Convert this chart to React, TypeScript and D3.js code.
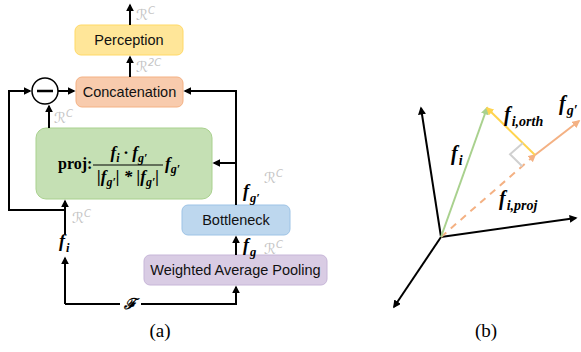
import * as d3 from "d3";
import React from "react";

// ---- panel (a) content
const boxLabels = ["Perception", "Concatenation", "Bottleneck", "Weighted Average Pooling"];
const boxFills = ["#FFE699", "#F8CBAD", "#BDD7EE", "#D9CCE4"];
const boxStrokes = ["#FFD966", "#F4B183", "#9DC3E6", "#C7B6D8"];
const dimLabels = ["C", "2C", "C", "C", "C", "C"];

// ---- panel (b) vectors, in vector-space units (origin = 0,0)
const axisVecs = [
  [-2.0, 12.9],
  [13.5, 1.9],
  [-4.7, -7.0],
];
const fI = [4.6, 12.9];
const fProj = [9.4, 8.2];
const fG = [13.8, 11.6];

const W = 581,
  H = 352;

const mathFont = "'Liberation Serif', 'DejaVu Serif', serif";
const sansFont = "'Liberation Sans', Arial, sans-serif";

// f with subscript, bold italic
const F = ({ x, y, sub, size = 18, anchor = "start" }: any) => (
  <text x={x} y={y} fontFamily={mathFont} fontWeight="bold" fontStyle="italic" fontSize={size} textAnchor={anchor} fill="#000">
    f
    <tspan dx={1} dy={size * 0.25} fontSize={size * 0.7}>
      {sub}
    </tspan>
  </text>
);

const RC = ({ x, y, sup }: any) => (
  <text x={x} y={y} fontFamily="'DejaVu Sans', sans-serif" fontSize={15} fill="#C4C4C4">
    ℛ
    <tspan dy={-6} fontSize={10} fontStyle="italic">
      {sup}
    </tspan>
  </text>
);

export default function App() {
  const sx = d3.scaleLinear().domain([0, 10]).range([441, 541]);
  const sy = d3.scaleLinear().domain([0, 10]).range([237, 137]);
  const pt = (v: number[]) => [sx(v[0]), sy(v[1])];
  const line = d3.line();

  const o = pt([0, 0]);
  const pI = pt(fI);
  const pP = pt(fProj);
  const pG = pt(fG);

  // right-angle mark at projection point
  const u1 = [pI[0] - pP[0], pI[1] - pP[1]];
  const l1 = Math.hypot(u1[0], u1[1]);
  const u2 = [o[0] - pP[0], o[1] - pP[1]];
  const l2 = Math.hypot(u2[0], u2[1]);
  const a = 17;
  const c1 = [pP[0] + (a * u1[0]) / l1, pP[1] + (a * u1[1]) / l1];
  const c3 = [pP[0] + (a * u2[0]) / l2, pP[1] + (a * u2[1]) / l2];
  const c2 = [c1[0] + (a * u2[0]) / l2, c1[1] + (a * u2[1]) / l2];

  const markers = [
    ["blk", "#000"],
    ["grn", "#A9D18E"],
    ["yel", "#FFD44F"],
    ["org", "#F4B183"],
  ];

  const box = (i: number, x: number, y: number, w: number, h: number) => (
    <g key={i}>
      <rect x={x} y={y} width={w} height={h} rx={6} fill={boxFills[i]} stroke={boxStrokes[i]} strokeWidth={1} />
      <text x={x + w / 2} y={y + h / 2 + 5} textAnchor="middle" fontFamily={sansFont} fontSize={14.5} fill="#111">
        {boxLabels[i]}
      </text>
    </g>
  );

  const S = { stroke: "#000", strokeWidth: 2, fill: "none" };

  return (
    <svg width={W} height={H} style={{ position: "absolute", left: 0, top: 0 }}>
      <defs>
        {markers.map(([id, col]) => (
          <marker key={id} id={id} viewBox="0 0 10 10" refX={8} refY={5} markerWidth={4} markerHeight={4} orient="auto-start-reverse">
            <path d="M0,0 L10,5 L0,10 z" fill={col} />
          </marker>
        ))}
      </defs>
      <rect width={W} height={H} fill="#fff" />

      {/* ---------- panel (a) ---------- */}
      {box(0, 75, 25, 108, 30)}
      {box(1, 76, 77, 107, 30)}
      {box(2, 182, 205, 108, 30)}
      {box(3, 144, 255, 183, 30)}
      <rect x={36} y={128} width={176} height={71} rx={10} fill="#C5E0B4" stroke="#A9D18E" strokeWidth={1} />

      {/* output arrows */}
      <path d="M130,25 L130,5" {...S} markerEnd="url(#blk)" />
      <path d="M130,77 L130,57" {...S} markerEnd="url(#blk)" />
      <RC x={136} y={20} sup={dimLabels[0]} />
      <RC x={136} y={72} sup={dimLabels[1]} />

      {/* minus circle */}
      <circle cx={45} cy={91} r={13} fill="#fff" stroke="#000" strokeWidth={1.5} />
      <path d="M37,91 L53,91" stroke="#000" strokeWidth={2.5} />
      <path d="M58,91 L74,91" {...S} markerEnd="url(#blk)" />
      <path d="M49,128 L49,106" {...S} markerEnd="url(#blk)" />
      <RC x={54} y={123} sup={dimLabels[2]} />

      {/* f_i loop on the left */}
      <path d="M65,210 L9,210 L9,91 L30,91" {...S} markerEnd="url(#blk)" />
      <path d="M65,234 L65,201" {...S} markerEnd="url(#blk)" />
      <RC x={72} y={223} sup={dimLabels[3]} />
      <F x={59} y={247} sub="i" />
      <path d="M65,304 L65,258" {...S} markerEnd="url(#blk)" />
      <path d="M65,304 L120,304 M141,304 L236,304 L236,287" {...S} markerEnd="url(#blk)" />
      <text x={130} y={309} textAnchor="middle" fontFamily="'DejaVu Serif', serif" fontWeight="bold" fontStyle="italic" fontSize={15}>
        ℱ
      </text>

      {/* f_g path on the right */}
      <path d="M236,255 L236,237" {...S} markerEnd="url(#blk)" />
      <F x={243} y={251} sub="g" />
      <RC x={264} y={254} sup={dimLabels[4]} />
      <path d="M236,205 L236,91 L185,91" {...S} markerEnd="url(#blk)" />
      <path d="M236,163 L214,163" {...S} markerEnd="url(#blk)" />
      <F x={243} y={197} sub="g′" />
      <RC x={264} y={183} sup={dimLabels[5]} />

      {/* projection formula */}
      <text x={58} y={169} fontFamily={mathFont} fontWeight="bold" fontSize={16}>
        proj:
      </text>
      <g fontFamily={mathFont} fontWeight="bold" fontStyle="italic" fontSize={17}>
        <text x={129} y={158} textAnchor="middle">
          f<tspan dy={4} fontSize={12}>i</tspan>
          <tspan dy={-4}> · f</tspan>
          <tspan dy={4} fontSize={12}>g′</tspan>
        </text>
        <path d="M93,165 L163,165" stroke="#000" strokeWidth={1} />
        <text x={128} y={182} textAnchor="middle">
          |f<tspan dy={4} fontSize={12}>g′</tspan>
          <tspan dy={-4}>| * |f</tspan>
          <tspan dy={4} fontSize={12}>g′</tspan>
          <tspan dy={-4}>|</tspan>
        </text>
        <text x={165} y={169}>
          f<tspan dy={4} fontSize={12}>g′</tspan>
        </text>
      </g>

      <text x={160} y={337} textAnchor="middle" fontFamily="'Liberation Serif', serif" fontSize={19}>
        (a)
      </text>

      {/* ---------- panel (b) ---------- */}
      {axisVecs.map((v, i) => (
        <path key={i} d={line([o as any, pt(v) as any]) as string} stroke="#000" strokeWidth={2} fill="none" markerEnd="url(#blk)" />
      ))}
      <path d={line([o as any, pP as any]) as string} stroke="#F4B183" strokeWidth={2} strokeDasharray="7,6" fill="none" markerEnd="url(#org)" />
      <path d={line([o as any, pI as any]) as string} stroke="#A9D18E" strokeWidth={2} fill="none" markerEnd="url(#grn)" />
      <path d={line([pP as any, pI as any]) as string} stroke="#FFD44F" strokeWidth={2} fill="none" markerEnd="url(#yel)" />
      <path d={line([pP as any, pG as any]) as string} stroke="#F4B183" strokeWidth={2} fill="none" markerEnd="url(#org)" />
      <path d={line([c1, c2, c3] as any) as string} stroke="#D0D0D0" strokeWidth={2} fill="none" />

      <F x={451} y={160} sub="i" size={20} />
      <F x={504} y={121} sub="i,orth" size={20} />
      <F x={559} y={110} sub="g′" size={20} />
      <F x={499} y={205} sub="i,proj" size={20} />

      <text x={486} y={337} textAnchor="middle" fontFamily="'Liberation Serif', serif" fontSize={19}>
        (b)
      </text>
    </svg>
  );
}
